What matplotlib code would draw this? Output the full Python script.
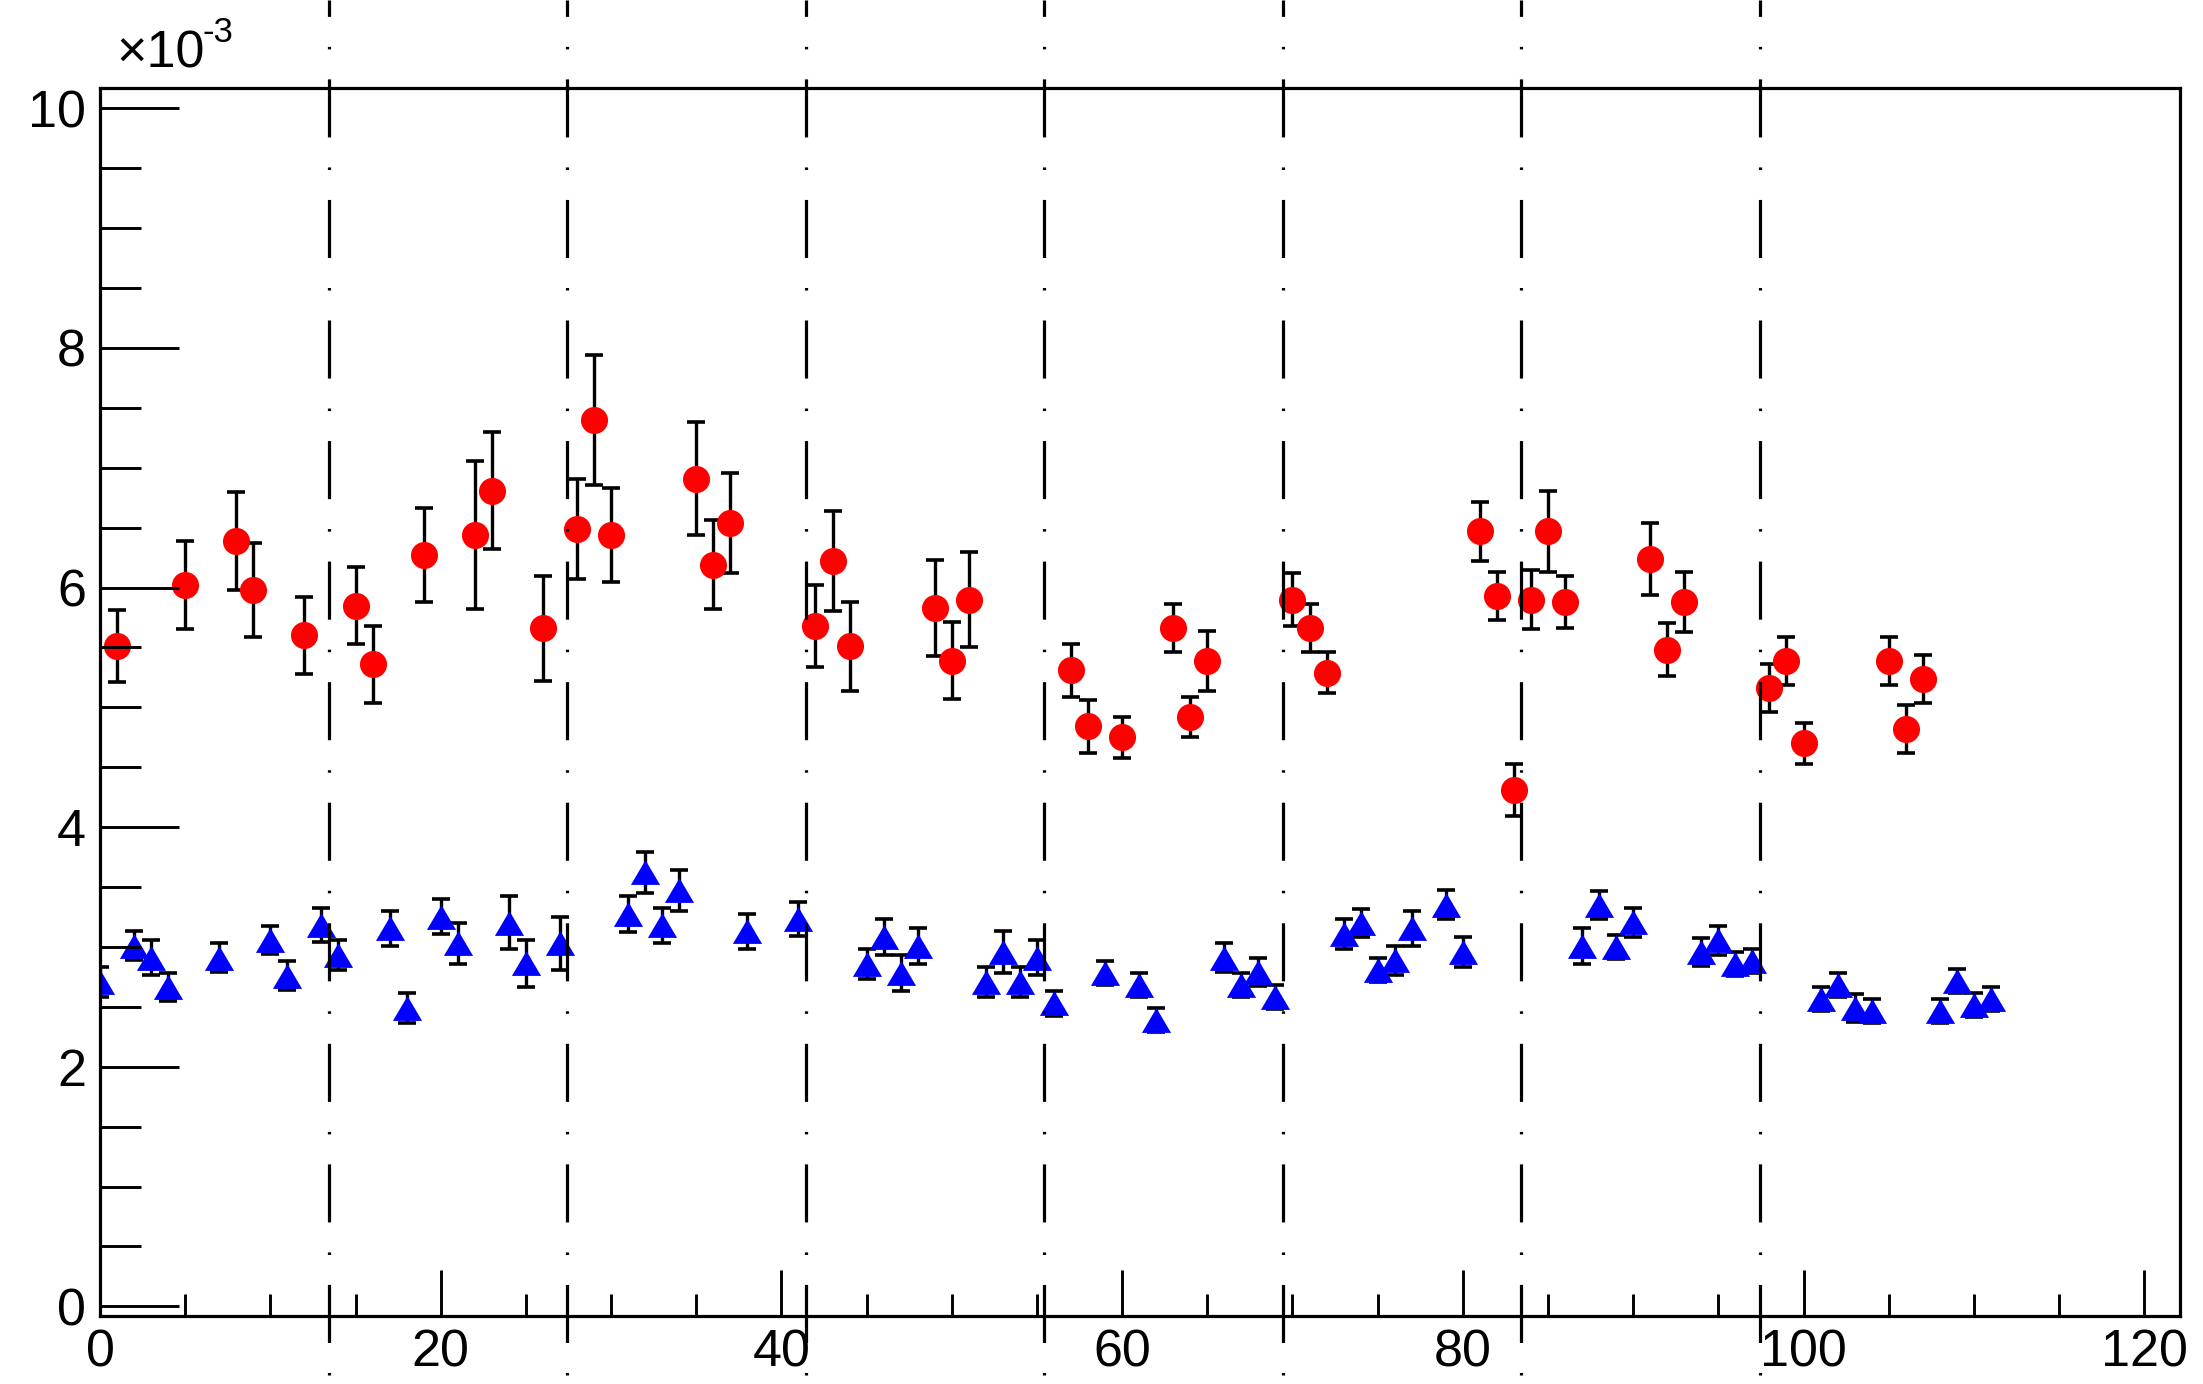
import numpy as np
import matplotlib
matplotlib.use("Agg")
import matplotlib.pyplot as plt
import matplotlib.transforms as mtransforms
from matplotlib.lines import Line2D
from matplotlib.path import Path
from matplotlib.ticker import MultipleLocator

# ---- data (values in units of 1e-3) ----
red_x = [1, 5, 8, 9, 12, 15, 16, 19, 22, 23, 26, 28, 29, 30, 35, 36, 37,
         42, 43, 44, 49, 50, 51, 57, 58, 60, 63, 64, 65, 70, 71, 72,
         81, 82, 83, 84, 85, 86, 91, 92, 93, 98, 99, 100, 105, 106, 107]
red_y = [5.51, 6.02, 6.39, 5.98, 5.60, 5.85, 5.36, 6.27, 6.44, 6.81, 5.66, 6.49, 7.40, 6.44, 6.91, 6.19, 6.54,
         5.68, 6.22, 5.51, 5.83, 5.39, 5.90, 5.31, 4.84, 4.75, 5.66, 4.92, 5.39, 5.90, 5.66, 5.29,
         6.47, 5.93, 4.31, 5.90, 6.47, 5.88, 6.24, 5.48, 5.88, 5.16, 5.39, 4.70, 5.39, 4.82, 5.24]
red_err = [0.30, 0.37, 0.41, 0.39, 0.32, 0.32, 0.32, 0.39, 0.62, 0.49, 0.44, 0.42, 0.54, 0.39, 0.47, 0.37, 0.42,
           0.34, 0.42, 0.37, 0.40, 0.32, 0.40, 0.22, 0.22, 0.17, 0.20, 0.17, 0.25, 0.22, 0.20, 0.17,
           0.245, 0.20, 0.22, 0.25, 0.34, 0.22, 0.30, 0.22, 0.25, 0.20, 0.20, 0.17, 0.20, 0.20, 0.20]

blue_x = [0, 2, 3, 4, 7, 10, 11, 13, 14, 17, 18, 20, 21, 24, 25, 27, 31, 32, 33, 34, 38, 41,
          45, 46, 47, 48, 52, 53, 54, 55, 56, 59, 61, 62, 66, 67, 68, 69,
          73, 74, 75, 76, 77, 79, 80, 87, 88, 89, 90, 94, 95, 96, 97,
          101, 102, 103, 104, 108, 109, 110, 111]
blue_y = [2.71, 3.01, 2.91, 2.665, 2.91, 3.057, 2.76, 3.18, 2.93, 3.155, 2.487, 3.25, 3.03, 3.203, 2.862, 3.03,
          3.277, 3.622, 3.18, 3.472, 3.13, 3.233,
          2.857, 3.082, 2.785, 3.007, 2.71, 2.96, 2.71, 2.91, 2.53, 2.78, 2.682, 2.389, 2.91, 2.682, 2.79, 2.584,
          3.107, 3.20, 2.807, 2.888, 3.155, 3.352, 2.957, 3.007, 3.35, 3.00, 3.205, 2.957, 3.054, 2.857, 2.885,
          2.565, 2.682, 2.49, 2.462, 2.462, 2.712, 2.512, 2.565]
blue_err = [0.125, 0.12, 0.146, 0.12, 0.12, 0.12, 0.12, 0.143, 0.125, 0.146, 0.125, 0.146, 0.17, 0.22, 0.195, 0.22,
            0.149, 0.168, 0.149, 0.17, 0.146, 0.146,
            0.125, 0.149, 0.149, 0.149, 0.125, 0.174, 0.125, 0.146, 0.105, 0.10, 0.10, 0.10, 0.12, 0.10, 0.12, 0.10,
            0.124, 0.12, 0.10, 0.12, 0.147, 0.122, 0.122, 0.149, 0.12, 0.10, 0.124, 0.12, 0.12, 0.10, 0.10,
            0.10, 0.10, 0.12, 0.10, 0.10, 0.10, 0.10, 0.10]

# group boundaries drawn as dash-dot lines
boundaries = [13.42, 27.42, 41.42, 55.42, 69.42, 83.42, 97.42]

x_major = [0, 20, 40, 60, 80, 100, 120]
y_major = [0, 2, 4, 6, 8, 10]

# ---- style ----
plt.rcParams['font.family'] = ['Liberation Sans', 'DejaVu Sans']
plt.rcParams['lines.scale_dashes'] = False

W, H = 2203, 1384
fig = plt.figure(figsize=(W / 100, H / 100), dpi=100)
fig.patch.set_facecolor('white')
ax = fig.add_axes([100 / W, 68 / H, 2080 / W, 1228 / H])

ax.set_xlim(0, 122.1)
ax.set_ylim(-0.081, 10.17)

# error bars first, markers on top
ax.errorbar(red_x, red_y, yerr=red_err, fmt='none', ecolor='black',
            elinewidth=2.4, capsize=6.5, capthick=2.6, zorder=2)
ax.errorbar(blue_x, blue_y, yerr=blue_err, fmt='none', ecolor='black',
            elinewidth=2.4, capsize=6.5, capthick=2.6, zorder=2)

triangle = Path([(0, 0.85), (-1, -0.85), (1, -0.85), (0, 0.85)],
                [Path.MOVETO, Path.LINETO, Path.LINETO, Path.CLOSEPOLY])

ax.plot(red_x, red_y, ls='none', marker='o', ms=19.5, mfc='#ff0000',
        mec='#ff0000', mew=0, zorder=2.2)
ax.plot(blue_x, blue_y, ls='none', marker=triangle, ms=21, mfc='#0000ff',
        mec='#0000ff', mew=0, zorder=2.2)

# axes frame and ticks
for s in ax.spines.values():
    s.set_linewidth(2.3)
    s.set_color('black')
ax.set_axisbelow(False)

ax.set_xticks(x_major)
ax.set_yticks(y_major)
ax.xaxis.set_minor_locator(MultipleLocator(5))
ax.yaxis.set_minor_locator(MultipleLocator(0.5))
ax.tick_params(which='both', direction='in', top=False, right=False,
               width=2.1, labelsize=37.5, color='black')
ax.tick_params(axis='x', which='major', length=33, pad=9)
ax.tick_params(axis='x', which='minor', length=16)
ax.tick_params(axis='y', which='major', length=57, pad=10)
ax.tick_params(axis='y', which='minor', length=29.5)

# dash-dot boundary lines spanning the whole figure height
trans = mtransforms.blended_transform_factory(ax.transData, fig.transFigure)
for b in boundaries:
    ln = Line2D([b, b], [1, 0], transform=trans, color='black', lw=2.3,
                linestyle=(30.0, (41.8, 21.6, 1.8, 21.6)),
                dash_capstyle='butt', clip_on=False, zorder=3)
    fig.add_artist(ln)

# exponent label
fig.text(116 / W, 1 - 67 / H, '×10', fontsize=37.5, va='baseline', ha='left')
fig.text(203 / W, 1 - 42 / H, '-3', fontsize=25, va='baseline', ha='left')

fig.savefig('out.png', dpi=100)
